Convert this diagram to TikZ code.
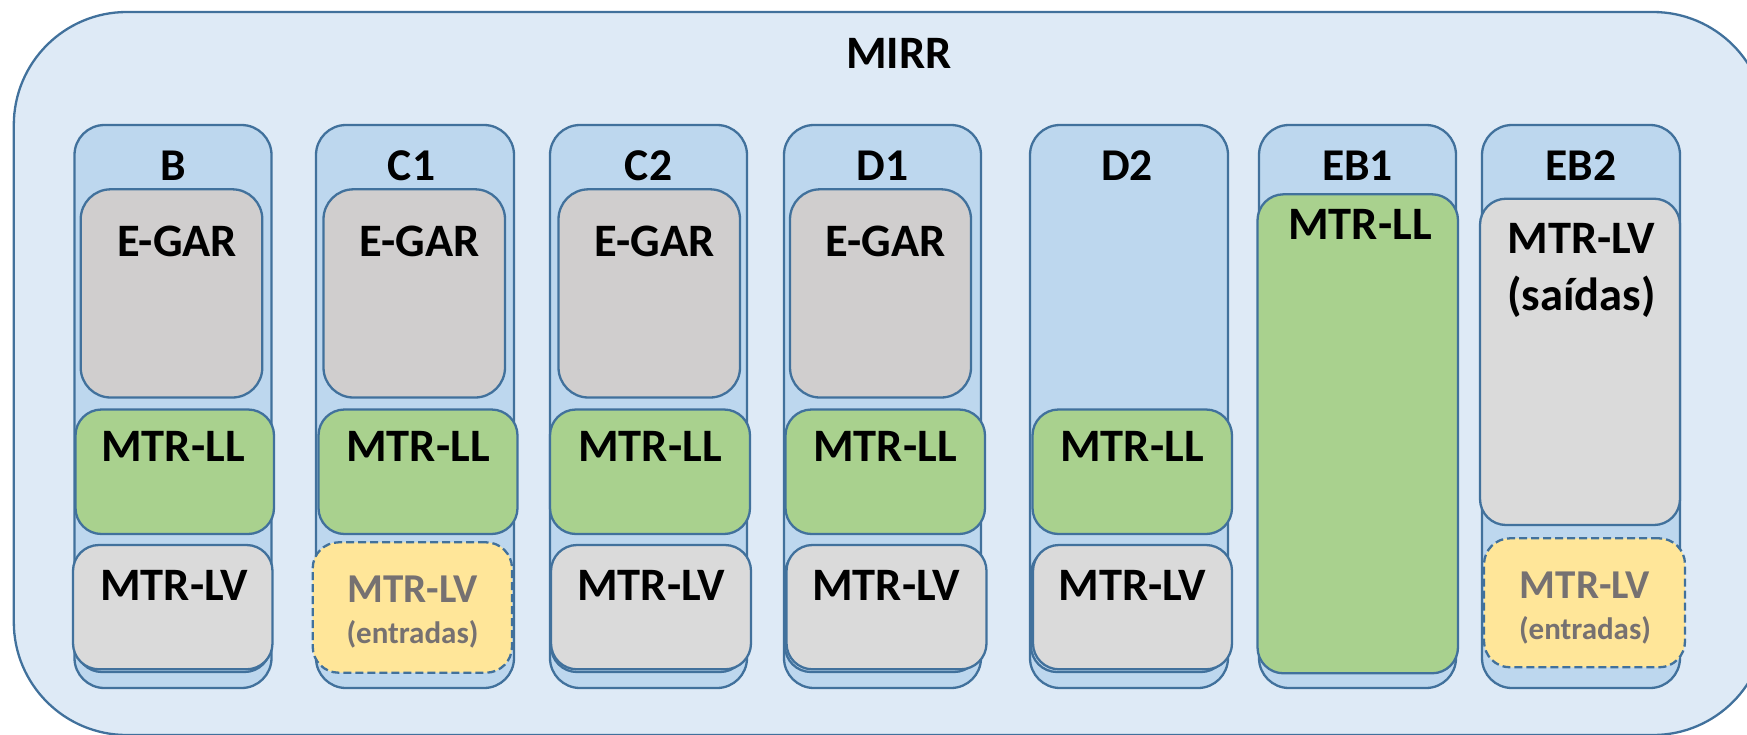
\documentclass[tikz,border=0pt]{standalone}
\usepackage{fontspec}
\setmainfont{Carlito}
\definecolor{edge}{HTML}{41719C}
\definecolor{outerfill}{HTML}{DEEAF6}
\definecolor{colfill}{HTML}{BDD7EE}
\definecolor{egarfill}{HTML}{D0CECE}
\definecolor{lvfill}{HTML}{DADADA}
\definecolor{llfill}{HTML}{A9D18E}
\definecolor{yelfill}{HTML}{FFE699}
\definecolor{greytxt}{HTML}{767171}
\tikzset{
  shp/.style={draw=edge, line width=2.3pt, inner sep=0pt, outer sep=0pt},
  outerbox/.style={shp, fill=outerfill, rounded corners=113pt},
  colbox/.style={shp, fill=colfill, rounded corners=30pt},
  egarbox/.style={shp, fill=egarfill, rounded corners=30pt},
  llbox/.style={shp, fill=llfill, rounded corners=26pt},
  lvbox/.style={shp, fill=lvfill, rounded corners=26pt},
  shadowbox/.style={shp, fill=colfill, rounded corners=26pt},
  yelbox/.style={shp, fill=yelfill, rounded corners=26pt, dash pattern=on 8pt off 4pt},
  txt/.style={anchor=base, inner sep=0pt, font=\fontsize{46.5}{50}\selectfont\bfseries},
  lbl/.style={anchor=base, inner sep=0pt, font=\fontsize{45.5}{49}\selectfont\bfseries},
  gtxt/.style={anchor=base, inner sep=0pt, text=greytxt, font=\fontsize{41}{45}\selectfont\bfseries},
  gsmall/.style={anchor=base, inner sep=0pt, text=greytxt, font=\fontsize{31}{35}\selectfont\bfseries},
}
\newcommand\rb[6]{\node[#2, minimum width={(#5)-(#3)}, minimum height={(#6)-(#4)}] (#1) at ({((#3)+(#5))/2},{((#4)+(#6))/2}) {};}
\begin{document}
\begin{tikzpicture}[x=1pt,y=-1pt]
\useasboundingbox (0,0) rectangle (1747,734);
\clip (0,0) rectangle (1747,734);
% outer
\rb{mirr}{outerbox}{13.8}{12}{1766}{735}
\node[txt] (tmirr) at (899,68) {MIRR};
% columns
\rb{colB}{colbox}{74.5}{125}{271.5}{688}
\rb{colC1}{colbox}{316}{125}{514}{688}
\rb{colC2}{colbox}{550}{125}{747}{688}
\rb{colD1}{colbox}{784}{125}{981}{688}
\rb{colD2}{colbox}{1030}{125}{1228}{688}
\rb{colEB1}{colbox}{1259}{125}{1456}{688}
\rb{colEB2}{colbox}{1482}{125}{1680}{688}
\node[lbl] (lB) at (173.5,180) {B};
\node[lbl] (lC1) at (411.5,180) {C1};
\node[lbl] (lC2) at (648.5,180) {C2};
\node[lbl] (lD1) at (882.5,180) {D1};
\node[lbl] (lD2) at (1127,180) {D2};
\node[lbl] (lEB1) at (1357.5,180) {EB1};
\node[lbl] (lEB2) at (1581,180) {EB2};
% E-GAR
\rb{egB}{egarbox}{80.7}{189.3}{262.3}{397.5}
\rb{egC1}{egarbox}{323.5}{189.3}{505}{397.5}
\rb{egC2}{egarbox}{558.5}{189.3}{740}{397.5}
\rb{egD1}{egarbox}{790}{189.3}{971}{397.5}
\node[txt] (tegB) at (177,256) {E-GAR};
\node[txt] (tegC1) at (419.5,256) {E-GAR};
\node[txt] (tegC2) at (654.5,256) {E-GAR};
\node[txt] (tegD1) at (885.5,256) {E-GAR};
% shadow boxes behind lower boxes
\rb{shB}{shadowbox}{76}{548}{270.5}{672}
\rb{shC2}{shadowbox}{551}{548}{746}{672}
\rb{shD1}{shadowbox}{785}{548}{980}{672}
\rb{shD2}{shadowbox}{1031}{548}{1227}{672}
% MTR-LL
\rb{llB}{llbox}{75.5}{409.5}{274}{534}
\rb{llC1}{llbox}{318.5}{409.5}{517.5}{534}
\rb{llC2}{llbox}{550}{409.5}{750}{534}
\rb{llD1}{llbox}{785.5}{409.5}{985}{534}
\rb{llD2}{llbox}{1032.5}{409.5}{1232}{534}
\node[txt] (tllB) at (173,461.5) {MTR-LL};
\node[txt] (tllC1) at (418,461.5) {MTR-LL};
\node[txt] (tllC2) at (650,461.5) {MTR-LL};
\node[txt] (tllD1) at (885,461.5) {MTR-LL};
\node[txt] (tllD2) at (1132,461.5) {MTR-LL};
% MTR-LV
\rb{lvB}{lvbox}{73}{545}{272.5}{669.3}
\rb{lvC2}{lvbox}{551}{545}{751}{669.3}
\rb{lvD1}{lvbox}{786.5}{545}{986.5}{669.3}
\rb{lvD2}{lvbox}{1033}{545}{1232}{669.3}
\node[txt] (tlvB) at (174,600) {MTR-LV};
\node[txt] (tlvC2) at (651,600) {MTR-LV};
\node[txt] (tlvD1) at (886,600) {MTR-LV};
\node[txt] (tlvD2) at (1132.5,600) {MTR-LV};
% C1 yellow
\rb{yC1}{yelbox}{312.7}{542.3}{512}{672.7}
\node[gtxt] (tyC1) at (412.5,602.7) {MTR-LV};
\node[gsmall] (tyC1b) at (412.5,643.3) {(entradas)};
% EB1
\rb{llEB1}{llbox}{1257.5}{194.3}{1458}{673.3}
\node[txt] (tllEB1) at (1360,239.3) {MTR-LL};
% EB2
\rb{lvEB2}{lvbox}{1480}{198.7}{1680}{525}
\node[txt] (tlvEB2) at (1581.5,253.3) {MTR-LV};
\node[txt] (tlvEB2b) at (1581.5,310) {(saídas)};
\rb{yEB2}{yelbox}{1484}{538.3}{1685}{667.3}
\node[gtxt] (tyEB2) at (1585,598.3) {MTR-LV};
\node[gsmall] (tyEB2b) at (1585,639.3) {(entradas)};
\end{tikzpicture}
\end{document}
